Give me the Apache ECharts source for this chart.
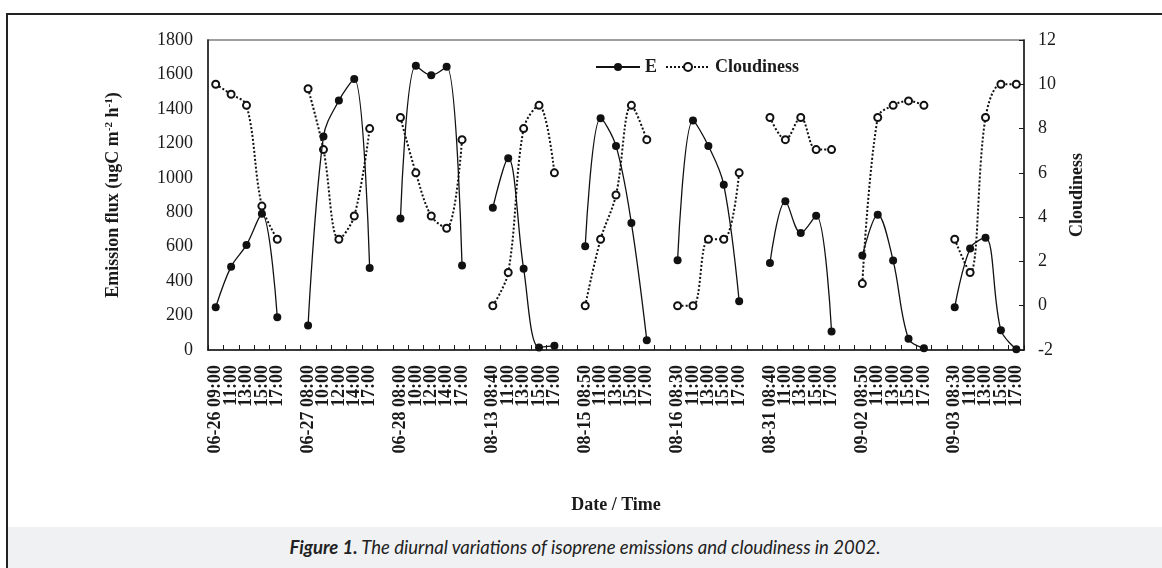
<!DOCTYPE html>
<html>
<head>
<meta charset="utf-8">
<script src="https://cdn.jsdelivr.net/npm/echarts@6/dist/echarts.min.js"></script>
<style>
  html, body { margin: 0; padding: 0; background: #fff; }
  #wrap { position: relative; width: 1162px; height: 568px; overflow: hidden; }
  #chart { position: absolute; left: 0; top: 0; width: 1162px; height: 527px; }
  .frame-top { position: absolute; left: 6px; top: 13px; width: 1156px; height: 2px; background: #222; }
  .frame-left { position: absolute; left: 6px; top: 13px; width: 2px; height: 555px; background: #222; }
  #caption {
    position: absolute; left: 8px; top: 527px; width: 1154px; height: 41px;
    background: #f0f1f3; text-align: center; line-height: 41px;
    font-family: Lato, 'Open Sans', sans-serif; font-style: italic; font-size: 18.5px; color: #222;
  }
  #caption b { font-weight: 700; }
</style>
</head>
<body>
<div id="wrap">
  <div id="chart"></div>
  <div class="frame-top"></div>
  <div class="frame-left"></div>
  <div id="caption"><b>Figure 1.</b> The diurnal variations of isoprene emissions and cloudiness in 2002.</div>
</div>
<script>
// 测量日期
const days = ['06-26', '06-27', '06-28', '08-13', '08-15', '08-16', '08-31', '09-02', '09-03']
// 每天的采样时刻
const times = [
  ['09:00', '11:00', '13:00', '15:00', '17:00'],
  ['08:00', '10:00', '12:00', '14:00', '17:00'],
  ['08:00', '10:00', '12:00', '14:00', '17:00'],
  ['08:40', '11:00', '13:00', '15:00', '17:00'],
  ['08:50', '11:00', '13:00', '15:00', '17:00'],
  ['08:30', '11:00', '13:00', '15:00', '17:00'],
  ['08:40', '11:00', '13:00', '15:00', '17:00'],
  ['08:50', '11:00', '13:00', '15:00', '17:00'],
  ['08:30', '11:00', '13:00', '15:00', '17:00']
]
// 异戊二烯排放通量 E (ugC m-2 h-1)
const emission = [
  [248, 484, 610, 791, 190],
  [142, 1240, 1448, 1574, 476],
  [764, 1651, 1595, 1645, 490],
  [826, 1114, 472, 15, 25],
  [602, 1346, 1185, 737, 57],
  [521, 1332, 1185, 959, 283],
  [505, 863, 679, 780, 107],
  [548, 786, 519, 65, 10],
  [248, 590, 652, 115, 5]
]
// 云量
const cloudiness = [
  [10, 9.55, 9.05, 4.5, 3],
  [9.8, 7.05, 3, 4.05, 8],
  [8.5, 6, 4.05, 3.5, 7.5],
  [0, 1.5, 8, 9.05, 6],
  [0, 3, 5, 9.05, 7.5],
  [0, 0, 3, 3, 6],
  [8.5, 7.5, 8.5, 7.05, 7.05],
  [1, 8.5, 9.05, 9.25, 9.05],
  [3, 1.5, 8.5, 10, 10]
]

// 拼接类目，天与天之间留一个空类目
const categories = []
const eData = []
const cData = []
days.forEach((day, d) => {
  if (d > 0) {
    categories.push('')
    eData.push(null)
    cData.push(null)
  }
  times[d].forEach((t, i) => {
    categories.push(i === 0 ? day + ' ' + t : t)
    eData.push(emission[d][i])
    cData.push(cloudiness[d][i])
  })
})

const serif = '"Liberation Serif", "Times New Roman", serif'
const ink = '#1a1a1a'

const chart = echarts.init(document.getElementById('chart'), null, { renderer: 'canvas' })
const option = {
  animation: false,
  backgroundColor: '#fff',
  textStyle: { fontFamily: serif, color: ink },
  legend: {
    left: 590,
    top: 53,
    itemWidth: 44,
    itemHeight: 10,
    itemGap: 8,
    textStyle: { fontFamily: serif, fontWeight: 'bold', fontSize: 18, color: ink },
    data: ['E', 'Cloudiness']
  },
  grid: {
    left: 208,
    top: 40,
    width: 816,
    height: 310,
    show: true,
    borderColor: '#808080',
    borderWidth: 1.5,
    containLabel: false,
    outerBoundsMode: 'none'
  },
  xAxis: {
    type: 'category',
    data: categories,
    boundaryGap: true,
    name: 'Date / Time',
    nameLocation: 'middle',
    nameGap: 146,
    nameTextStyle: { fontFamily: serif, fontWeight: 'bold', fontSize: 18, color: ink },
    axisLine: { lineStyle: { color: ink, width: 1.5 } },
    axisTick: { show: true, inside: true, length: 5, interval: 0, lineStyle: { color: ink } },
    axisLabel: {
      interval: 0,
      rotate: 90,
      margin: 15,
      fontFamily: serif,
      fontWeight: 'bold',
      fontSize: 18,
      color: ink
    },
    splitLine: { show: false }
  },
  yAxis: [
    {
      type: 'value',
      min: 0,
      max: 1800,
      interval: 200,
      name: 'Emission flux (ugC m{sup|-2} h{sup|-1})',
      nameLocation: 'middle',
      nameGap: 86,
      nameTextStyle: {
        fontFamily: serif, fontWeight: 'bold', fontSize: 18, color: ink,
        rich: {
          sup: { fontFamily: serif, fontWeight: 'bold', fontSize: 11, verticalAlign: 'top', color: ink }
        }
      },
      axisLine: { show: true, lineStyle: { color: ink, width: 1.5 } },
      axisTick: { show: false },
      axisLabel: { margin: 15, fontFamily: serif, fontSize: 18, color: ink, formatter: (v) => String(v) },
      splitLine: { show: false }
    },
    {
      type: 'value',
      min: -2,
      max: 12,
      interval: 2,
      position: 'right',
      name: 'Cloudiness',
      nameLocation: 'middle',
      nameGap: 44,
      nameTextStyle: { fontFamily: serif, fontWeight: 'bold', fontSize: 18, color: ink },
      axisLine: { show: true, lineStyle: { color: ink, width: 1.5 } },
      axisTick: { show: true, inside: true, length: 5, lineStyle: { color: ink } },
      axisLabel: { margin: 14, fontFamily: serif, fontSize: 18, color: ink, formatter: (v) => String(v) },
      splitLine: { show: false }
    }
  ],
  series: [
    {
      name: 'E',
      type: 'line',
      yAxisIndex: 0,
      data: eData,
      smooth: 0.35,
      connectNulls: false,
      symbol: 'circle',
      symbolSize: 8,
      itemStyle: { color: '#111' },
      lineStyle: { color: '#111', width: 1.3, type: 'solid' },
      z: 3
    },
    {
      name: 'Cloudiness',
      type: 'line',
      yAxisIndex: 1,
      data: cData,
      smooth: 0.35,
      connectNulls: false,
      symbol: 'emptyCircle',
      symbolSize: 7,
      itemStyle: { color: '#111', borderWidth: 1 },
      lineStyle: { color: '#111', width: 2, type: 'dotted' },
      z: 2
    }
  ]
}
chart.setOption(option)
</script>
</body>
</html>
